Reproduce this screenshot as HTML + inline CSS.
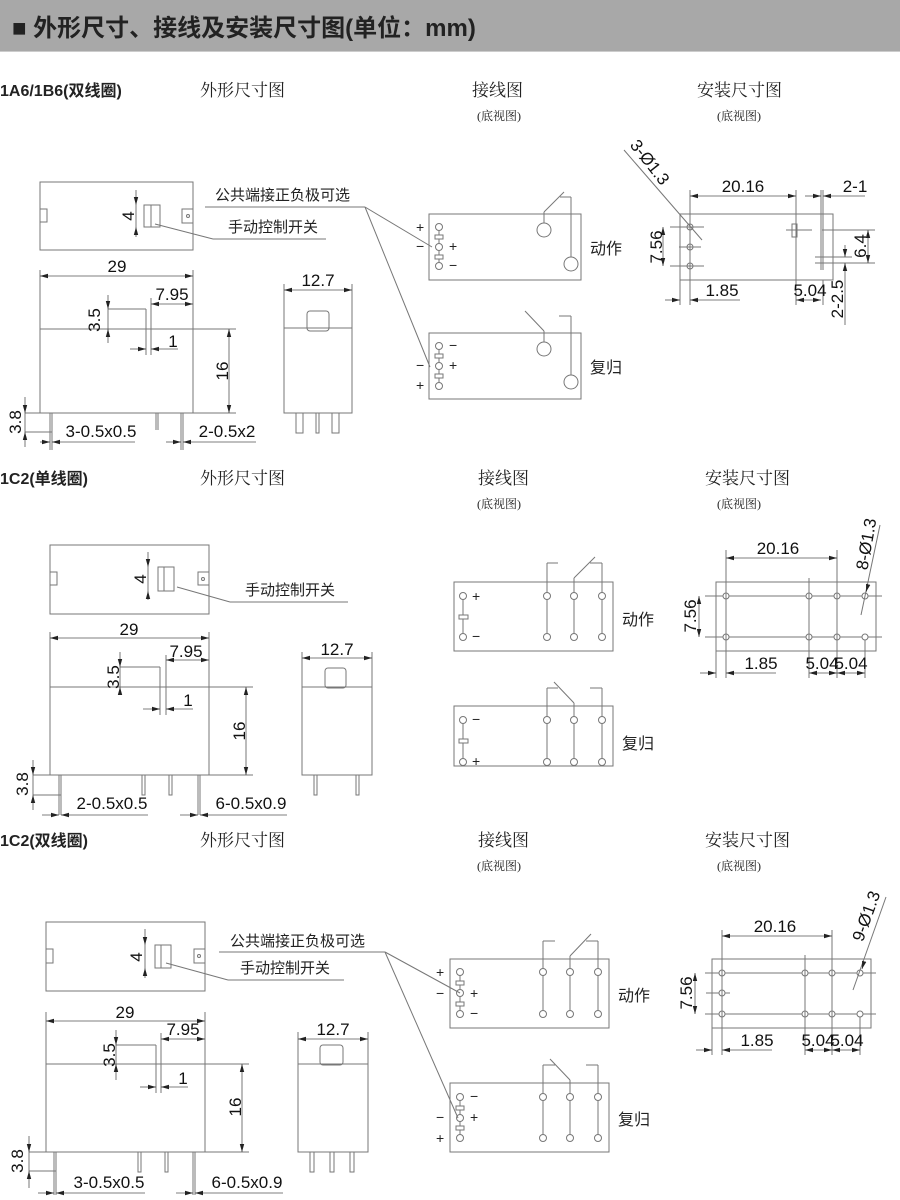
<!DOCTYPE html>
<html><head><meta charset="utf-8">
<style>
html,body{margin:0;padding:0;background:#fff;}
svg{display:block}
.l{stroke:#777;stroke-width:1;fill:none}
.d{stroke:#555;stroke-width:0.8;fill:none}
.t{font-family:"Liberation Sans","Noto Sans CJK SC",sans-serif;fill:#222}
.s{font-family:"Liberation Serif","Noto Serif CJK SC",serif;fill:#222}
.n{font-family:"Liberation Sans",sans-serif;font-size:17px;fill:#111}
</style></head><body>
<svg width="900" height="1200" viewBox="0 0 900 1200" xmlns="http://www.w3.org/2000/svg">
<defs>
<marker id="a" markerWidth="8" markerHeight="6" refX="8" refY="3" orient="auto-start-reverse" markerUnits="userSpaceOnUse"><path d="M0,0.8 L8,3 L0,5.2z" fill="#222"/></marker>
</defs>
<rect x="0" y="0" width="900" height="52" fill="#a8a8a8"/>
<rect x="0" y="51" width="900" height="1" fill="#ccc"/>
<text x="12" y="36" class="t" font-size="24" font-weight="bold" fill="#000">■ 外形尺寸、接线及安装尺寸图(单位：mm)</text>

<!-- headings -->
<g class="t" font-size="16" font-weight="bold"><text x="0" y="96">1A6/1B6(双线圈)</text><text x="0" y="484">1C2(单线圈)</text><text x="0" y="846">1C2(双线圈)</text></g>
<g class="s" font-size="17">
<text x="200" y="96">外形尺寸图</text><text x="472" y="96">接线图</text><text x="697" y="96">安装尺寸图</text>
<text x="200" y="484">外形尺寸图</text><text x="478" y="484">接线图</text><text x="705" y="484">安装尺寸图</text>
<text x="200" y="846">外形尺寸图</text><text x="478" y="846">接线图</text><text x="705" y="846">安装尺寸图</text>
</g>
<g class="s" font-size="12">
<text x="477" y="120">(底视图)</text><text x="717" y="120">(底视图)</text>
<text x="477" y="508">(底视图)</text><text x="717" y="508">(底视图)</text>
<text x="477" y="870">(底视图)</text><text x="717" y="870">(底视图)</text>
</g>

<!-- ===== SECTION 1 outline ===== -->
<g class="l">
<rect x="40" y="182" width="153" height="68"/>
<rect x="40" y="209" width="7" height="13"/>
<rect x="182" y="209" width="11" height="14"/><circle cx="188" cy="216" r="1.5"/>
<rect x="144" y="205" width="16" height="22"/><line x1="151" y1="205" x2="151" y2="227"/>
<line x1="155" y1="224" x2="213" y2="239"/><line x1="213" y1="239" x2="326" y2="239"/>
<line x1="205" y1="207" x2="365" y2="207"/>
<line x1="365" y1="207" x2="432" y2="247"/><line x1="365" y1="207" x2="430" y2="367"/>
<rect x="40" y="329" width="153" height="84"/>
<line x1="40" y1="270" x2="40" y2="329"/><line x1="193" y1="270" x2="193" y2="329"/>
<line x1="108" y1="309" x2="146" y2="309"/><line x1="146" y1="309" x2="146" y2="355"/><line x1="151" y1="298" x2="151" y2="355"/>
<line x1="193" y1="329" x2="236" y2="329"/><line x1="193" y1="413" x2="236" y2="413"/>
<line x1="50" y1="413" x2="50" y2="450"/><line x1="52" y1="413" x2="52" y2="450"/>
<line x1="156" y1="413" x2="156" y2="430"/><line x1="158" y1="413" x2="158" y2="430"/>
<line x1="181" y1="413" x2="181" y2="450"/><line x1="183" y1="413" x2="183" y2="450"/>
<line x1="25" y1="413" x2="52" y2="413"/><line x1="25" y1="432" x2="52" y2="432"/>
<rect x="284" y="328" width="68" height="85"/>
<rect x="307" y="311" width="22" height="20" rx="3"/>
<line x1="284" y1="284" x2="284" y2="328"/><line x1="352" y1="284" x2="352" y2="328"/>
<rect x="296" y="413" width="7" height="20"/><rect x="316" y="413" width="3" height="20"/><rect x="332" y="413" width="7" height="20"/>
</g>
<g class="d">
<line x1="136" y1="190" x2="136" y2="205" marker-end="url(#a)"/><line x1="136" y1="237" x2="136" y2="227" marker-end="url(#a)"/>
<line x1="136" y1="205" x2="136" y2="227"/>
<line x1="40" y1="276" x2="193" y2="276" marker-start="url(#a)" marker-end="url(#a)"/>
<line x1="151" y1="304" x2="193" y2="304" marker-start="url(#a)" marker-end="url(#a)"/>
<line x1="108" y1="295" x2="108" y2="309" marker-end="url(#a)"/><line x1="108" y1="343" x2="108" y2="329" marker-end="url(#a)"/><line x1="108" y1="309" x2="108" y2="329"/>
<line x1="130" y1="349" x2="146" y2="349" marker-end="url(#a)"/><line x1="178" y1="349" x2="151" y2="349" marker-end="url(#a)"/>
<line x1="229" y1="329" x2="229" y2="413" marker-start="url(#a)" marker-end="url(#a)"/>
<line x1="25" y1="397" x2="25" y2="413" marker-end="url(#a)"/><line x1="25" y1="447" x2="25" y2="432" marker-end="url(#a)"/><line x1="25" y1="413" x2="25" y2="432"/>
<line x1="40" y1="442" x2="50" y2="442" marker-end="url(#a)"/><line x1="135" y1="442" x2="52" y2="442" marker-end="url(#a)"/>
<line x1="166" y1="442" x2="181" y2="442" marker-end="url(#a)"/><line x1="256" y1="442" x2="183" y2="442" marker-end="url(#a)"/>
<line x1="284" y1="290" x2="352" y2="290" marker-start="url(#a)" marker-end="url(#a)"/>
</g>
<g class="n">
<text x="128" y="222" transform="rotate(-90 128 216)" text-anchor="middle">4</text>
<text x="117" y="272" text-anchor="middle">29</text>
<text x="172" y="300" text-anchor="middle">7.95</text>
<text x="100" y="320" transform="rotate(-90 100 320)" text-anchor="middle">3.5</text>
<text x="173" y="347" text-anchor="middle">1</text>
<text x="222" y="377" transform="rotate(-90 222 371)" text-anchor="middle">16</text>
<text x="15" y="428" transform="rotate(-90 15 422)" text-anchor="middle">3.8</text>
<text x="101" y="437" text-anchor="middle">3-0.5x0.5</text>
<text x="227" y="437" text-anchor="middle">2-0.5x2</text>
<text x="318" y="286" text-anchor="middle">12.7</text>
</g>
<g class="t" font-size="15"><text x="215" y="200">公共端接正负极可选</text><text x="228" y="232">手动控制开关</text></g>

<!-- wiring section1 -->
<g class="l">
<rect x="429" y="214" width="152" height="66"/>
<circle cx="439" cy="227" r="3.5"/><circle cx="439" cy="247" r="3.5"/><circle cx="439" cy="266" r="3.5"/>
<line x1="439" y1="230" x2="439" y2="244"/><line x1="439" y1="250" x2="439" y2="263"/>
<rect x="435" y="235" width="8" height="4" fill="#fff"/><rect x="435" y="255" width="8" height="4" fill="#fff"/>
<circle cx="544" cy="230" r="7"/><circle cx="571" cy="264" r="7"/>
<line x1="544" y1="223" x2="544" y2="212"/><line x1="544" y1="212" x2="564" y2="192"/>
<line x1="571" y1="257" x2="571" y2="197"/><line x1="560" y1="197" x2="571" y2="197"/>
<rect x="429" y="333" width="152" height="66"/>
<circle cx="439" cy="346" r="3.5"/><circle cx="439" cy="366" r="3.5"/><circle cx="439" cy="386" r="3.5"/>
<line x1="439" y1="349" x2="439" y2="363"/><line x1="439" y1="369" x2="439" y2="383"/>
<rect x="435" y="354" width="8" height="4" fill="#fff"/><rect x="435" y="374" width="8" height="4" fill="#fff"/>
<circle cx="544" cy="349" r="7"/><circle cx="571" cy="382" r="7"/>
<line x1="544" y1="342" x2="544" y2="331"/><line x1="544" y1="331" x2="525" y2="311"/>
<line x1="571" y1="375" x2="571" y2="316"/><line x1="559" y1="316" x2="571" y2="316"/>
</g>
<g class="t" font-size="14" fill="#444">
<text x="416" y="232">+</text><text x="416" y="251">−</text><text x="449" y="251">+</text><text x="449" y="270">−</text>
<text x="449" y="350">−</text><text x="416" y="370">−</text><text x="449" y="370">+</text><text x="416" y="390">+</text>
</g>
<g class="t" font-size="16"><text x="590" y="254">动作</text><text x="590" y="373">复归</text></g>

<!-- mount section1 -->
<g class="l">
<rect x="680" y="214" width="153" height="66"/>
<circle cx="690" cy="227" r="3"/><circle cx="690" cy="247" r="3"/><circle cx="690" cy="266" r="3"/>
<line x1="670" y1="227" x2="704" y2="227"/><line x1="679" y1="247" x2="701" y2="247"/><line x1="670" y1="266" x2="704" y2="266"/>
<line x1="690" y1="190" x2="690" y2="305"/><line x1="680" y1="280" x2="680" y2="305"/>
<line x1="796" y1="190" x2="796" y2="305"/>
<rect x="792" y="224" width="5" height="13"/><line x1="786" y1="230" x2="812" y2="230"/>
<line x1="821" y1="190" x2="821" y2="270"/><line x1="823" y1="190" x2="823" y2="270"/><line x1="823" y1="280" x2="823" y2="305"/>
<line x1="822" y1="230" x2="875" y2="230"/><line x1="815" y1="263" x2="875" y2="263"/><line x1="815" y1="257" x2="852" y2="257"/>
<line x1="624" y1="150" x2="702" y2="240"/>
</g>
<g class="d">
<line x1="690" y1="196" x2="796" y2="196" marker-start="url(#a)" marker-end="url(#a)"/>
<line x1="805" y1="196" x2="821" y2="196" marker-end="url(#a)"/><line x1="865" y1="196" x2="823" y2="196" marker-end="url(#a)"/>
<line x1="868" y1="230" x2="868" y2="263" marker-start="url(#a)" marker-end="url(#a)"/>
<line x1="845" y1="245" x2="845" y2="257" marker-end="url(#a)"/><line x1="845" y1="325" x2="845" y2="263" marker-end="url(#a)"/>
<line x1="663" y1="227" x2="663" y2="266" marker-start="url(#a)" marker-end="url(#a)"/>
<line x1="665" y1="300" x2="680" y2="300" marker-end="url(#a)"/><line x1="740" y1="300" x2="690" y2="300" marker-end="url(#a)"/>
<line x1="796" y1="300" x2="821" y2="300" marker-start="url(#a)" marker-end="url(#a)"/>
</g>
<g class="n">
<text x="743" y="192" text-anchor="middle">20.16</text>
<text x="855" y="192" text-anchor="middle">2-1</text>
<text x="860" y="252" transform="rotate(-90 860 246)" text-anchor="middle">6.4</text>
<text x="837" y="305" transform="rotate(-90 837 299)" text-anchor="middle">2-2.5</text>
<text x="656" y="253" transform="rotate(-90 656 247)" text-anchor="middle">7.56</text>
<text x="722" y="296" text-anchor="middle">1.85</text>
<text x="810" y="296" text-anchor="middle">5.04</text>
<text x="650" y="168" transform="rotate(52 650 162)" text-anchor="middle">3-Ø1.3</text>
</g>

<!-- ===== SECTION 2 outline ===== -->
<g class="l">
<rect x="50" y="545" width="159" height="69"/>
<rect x="50" y="572" width="7" height="13"/>
<rect x="198" y="572" width="11" height="13"/><circle cx="203" cy="579" r="1.5"/>
<rect x="158" y="567" width="16" height="24"/><line x1="164" y1="567" x2="164" y2="591"/>
<line x1="177" y1="587" x2="230" y2="602"/><line x1="230" y1="602" x2="348" y2="602"/>
<rect x="50" y="687" width="159" height="88"/>
<line x1="50" y1="632" x2="50" y2="687"/><line x1="209" y1="632" x2="209" y2="687"/>
<line x1="120" y1="667" x2="160" y2="667"/><line x1="160" y1="667" x2="160" y2="715"/><line x1="166" y1="655" x2="166" y2="715"/>
<line x1="209" y1="687" x2="253" y2="687"/><line x1="209" y1="775" x2="253" y2="775"/>
<line x1="59" y1="775" x2="59" y2="815"/><line x1="61" y1="775" x2="61" y2="815"/>
<rect x="142" y="775" width="3" height="20"/><rect x="169" y="775" width="3" height="20"/>
<line x1="198" y1="775" x2="198" y2="815"/><line x1="200" y1="775" x2="200" y2="815"/>
<line x1="33" y1="775" x2="61" y2="775"/><line x1="33" y1="795" x2="61" y2="795"/>
<rect x="302" y="687" width="70" height="88"/>
<rect x="325" y="668" width="21" height="20" rx="3"/>
<line x1="302" y1="652" x2="302" y2="687"/><line x1="372" y1="652" x2="372" y2="687"/>
<rect x="314" y="775" width="3" height="20"/><rect x="356" y="775" width="3" height="20"/>
</g>
<g class="d">
<line x1="148" y1="552" x2="148" y2="567" marker-end="url(#a)"/><line x1="148" y1="600" x2="148" y2="591" marker-end="url(#a)"/><line x1="148" y1="567" x2="148" y2="591"/>
<line x1="50" y1="638" x2="209" y2="638" marker-start="url(#a)" marker-end="url(#a)"/>
<line x1="166" y1="660" x2="209" y2="660" marker-start="url(#a)" marker-end="url(#a)"/>
<line x1="120" y1="652" x2="120" y2="667" marker-end="url(#a)"/><line x1="120" y1="695" x2="120" y2="687" marker-end="url(#a)"/><line x1="120" y1="667" x2="120" y2="687"/>
<line x1="143" y1="709" x2="160" y2="709" marker-end="url(#a)"/><line x1="193" y1="709" x2="166" y2="709" marker-end="url(#a)"/>
<line x1="246" y1="687" x2="246" y2="775" marker-start="url(#a)" marker-end="url(#a)"/>
<line x1="33" y1="760" x2="33" y2="775" marker-end="url(#a)"/><line x1="33" y1="810" x2="33" y2="795" marker-end="url(#a)"/><line x1="33" y1="775" x2="33" y2="795"/>
<line x1="42" y1="815" x2="59" y2="815" marker-end="url(#a)"/><line x1="148" y1="815" x2="61" y2="815" marker-end="url(#a)"/>
<line x1="180" y1="815" x2="198" y2="815" marker-end="url(#a)"/><line x1="287" y1="815" x2="200" y2="815" marker-end="url(#a)"/>
<line x1="302" y1="658" x2="372" y2="658" marker-start="url(#a)" marker-end="url(#a)"/>
</g>
<g class="n">
<text x="140" y="585" transform="rotate(-90 140 579)" text-anchor="middle">4</text>
<text x="129" y="635" text-anchor="middle">29</text>
<text x="186" y="657" text-anchor="middle">7.95</text>
<text x="113" y="683" transform="rotate(-90 113 677)" text-anchor="middle">3.5</text>
<text x="188" y="706" text-anchor="middle">1</text>
<text x="239" y="737" transform="rotate(-90 239 731)" text-anchor="middle">16</text>
<text x="22" y="790" transform="rotate(-90 22 784)" text-anchor="middle">3.8</text>
<text x="112" y="809" text-anchor="middle">2-0.5x0.5</text>
<text x="251" y="809" text-anchor="middle">6-0.5x0.9</text>
<text x="337" y="655" text-anchor="middle">12.7</text>
</g>
<g class="t" font-size="15"><text x="245" y="595">手动控制开关</text></g>

<!-- wiring section2 -->
<g class="l">
<rect x="454" y="582" width="159" height="69"/>
<circle cx="463" cy="596" r="3.5"/><circle cx="463" cy="637" r="3.5"/><line x1="463" y1="599" x2="463" y2="634"/>
<rect x="459" y="615" width="9" height="4" fill="#fff"/>
<circle cx="547" cy="596" r="3.5"/><circle cx="547" cy="637" r="3.5"/><line x1="547" y1="599" x2="547" y2="634"/>
<circle cx="574" cy="596" r="3.5"/><circle cx="574" cy="637" r="3.5"/><line x1="574" y1="599" x2="574" y2="634"/>
<circle cx="602" cy="596" r="3.5"/><circle cx="602" cy="637" r="3.5"/><line x1="602" y1="599" x2="602" y2="634"/>
<line x1="547" y1="593" x2="547" y2="563"/><line x1="547" y1="563" x2="558" y2="563"/>
<line x1="574" y1="593" x2="574" y2="578"/><line x1="574" y1="578" x2="595" y2="557"/>
<line x1="602" y1="593" x2="602" y2="563"/><line x1="590" y1="563" x2="602" y2="563"/>
<rect x="454" y="706" width="159" height="60"/>
<circle cx="463" cy="720" r="3.5"/><circle cx="463" cy="762" r="3.5"/><line x1="463" y1="723" x2="463" y2="759"/>
<rect x="459" y="739" width="9" height="4" fill="#fff"/>
<circle cx="547" cy="720" r="3.5"/><circle cx="547" cy="762" r="3.5"/><line x1="547" y1="723" x2="547" y2="759"/>
<circle cx="574" cy="720" r="3.5"/><circle cx="574" cy="762" r="3.5"/><line x1="574" y1="723" x2="574" y2="759"/>
<circle cx="602" cy="720" r="3.5"/><circle cx="602" cy="762" r="3.5"/><line x1="602" y1="723" x2="602" y2="759"/>
<line x1="547" y1="717" x2="547" y2="688"/><line x1="547" y1="688" x2="558" y2="688"/>
<line x1="574" y1="717" x2="574" y2="703"/><line x1="574" y1="703" x2="554" y2="682"/>
<line x1="602" y1="717" x2="602" y2="688"/><line x1="590" y1="688" x2="602" y2="688"/>
</g>
<g class="t" font-size="14" fill="#444"><text x="472" y="601">+</text><text x="472" y="641">−</text><text x="472" y="724">−</text><text x="472" y="766">+</text></g>
<g class="t" font-size="16"><text x="622" y="625">动作</text><text x="622" y="749">复归</text></g>

<!-- mount section2 -->
<g class="l">
<rect x="716" y="582" width="160" height="69"/>
<line x1="705" y1="596" x2="882" y2="596"/><line x1="705" y1="637" x2="882" y2="637"/>
<circle cx="726" cy="596" r="3" fill="#fff"/><circle cx="726" cy="637" r="3" fill="#fff"/>
<circle cx="809" cy="596" r="3" fill="#fff"/><circle cx="809" cy="637" r="3" fill="#fff"/>
<circle cx="837" cy="596" r="3" fill="#fff"/><circle cx="837" cy="637" r="3" fill="#fff"/>
<circle cx="865" cy="596" r="3" fill="#fff"/><circle cx="865" cy="637" r="3" fill="#fff"/>
<line x1="726" y1="550" x2="726" y2="678"/><line x1="716" y1="651" x2="716" y2="678"/>
<line x1="837" y1="550" x2="837" y2="678"/><line x1="809" y1="578" x2="809" y2="678"/><line x1="865" y1="640" x2="865" y2="678"/>
<line x1="880" y1="525" x2="861" y2="615"/>
</g>
<g class="d">
<line x1="726" y1="558" x2="837" y2="558" marker-start="url(#a)" marker-end="url(#a)"/>
<line x1="699" y1="596" x2="699" y2="637" marker-start="url(#a)" marker-end="url(#a)"/>
<line x1="700" y1="673" x2="716" y2="673" marker-end="url(#a)"/><line x1="776" y1="673" x2="726" y2="673" marker-end="url(#a)"/>
<line x1="809" y1="673" x2="837" y2="673" marker-start="url(#a)" marker-end="url(#a)"/>
<line x1="837" y1="673" x2="865" y2="673" marker-start="url(#a)" marker-end="url(#a)"/>
<line x1="868" y1="585" x2="866" y2="592" marker-end="url(#a)"/>
</g>
<g class="n">
<text x="778" y="554" text-anchor="middle">20.16</text>
<text x="690" y="622" transform="rotate(-90 690 616)" text-anchor="middle">7.56</text>
<text x="761" y="669" text-anchor="middle">1.85</text>
<text x="822" y="669" text-anchor="middle">5.04</text>
<text x="851" y="669" text-anchor="middle">5.04</text>
<text x="866" y="550" transform="rotate(-80 866 544)" text-anchor="middle">8-Ø1.3</text>
</g>

<!-- ===== SECTION 3 outline ===== -->
<g class="l">
<rect x="46" y="922" width="159" height="69"/>
<rect x="46" y="949" width="7" height="14"/>
<rect x="194" y="949" width="11" height="14"/><circle cx="199" cy="956" r="1.5"/>
<rect x="155" y="945" width="16" height="23"/><line x1="161" y1="945" x2="161" y2="968"/>
<line x1="166" y1="963" x2="228" y2="980"/><line x1="228" y1="980" x2="344" y2="980"/>
<line x1="219" y1="952" x2="385" y2="952"/>
<line x1="385" y1="952" x2="460" y2="993"/><line x1="385" y1="952" x2="458" y2="1118"/>
<rect x="46" y="1064" width="159" height="88"/>
<line x1="46" y1="1012" x2="46" y2="1064"/><line x1="205" y1="1012" x2="205" y2="1064"/>
<line x1="116" y1="1045" x2="156" y2="1045"/><line x1="156" y1="1045" x2="156" y2="1093"/><line x1="161" y1="1033" x2="161" y2="1093"/>
<line x1="205" y1="1064" x2="249" y2="1064"/><line x1="205" y1="1152" x2="249" y2="1152"/>
<line x1="54" y1="1152" x2="54" y2="1195"/><line x1="56" y1="1152" x2="56" y2="1195"/>
<rect x="138" y="1152" width="3" height="20"/><rect x="165" y="1152" width="3" height="20"/>
<line x1="193" y1="1152" x2="193" y2="1195"/><line x1="195" y1="1152" x2="195" y2="1195"/>
<line x1="29" y1="1152" x2="56" y2="1152"/><line x1="29" y1="1171" x2="56" y2="1171"/>
<rect x="298" y="1064" width="70" height="88"/>
<rect x="320" y="1045" width="23" height="20" rx="3"/>
<line x1="298" y1="1032" x2="298" y2="1064"/><line x1="368" y1="1032" x2="368" y2="1064"/>
<rect x="310" y="1152" width="4" height="20"/><rect x="330" y="1152" width="4" height="20"/><rect x="350" y="1152" width="4" height="20"/>
</g>
<g class="d">
<line x1="145" y1="929" x2="145" y2="945" marker-end="url(#a)"/><line x1="145" y1="978" x2="145" y2="968" marker-end="url(#a)"/><line x1="145" y1="945" x2="145" y2="968"/>
<line x1="46" y1="1021" x2="205" y2="1021" marker-start="url(#a)" marker-end="url(#a)"/>
<line x1="161" y1="1039" x2="205" y2="1039" marker-start="url(#a)" marker-end="url(#a)"/>
<line x1="116" y1="1030" x2="116" y2="1045" marker-end="url(#a)"/><line x1="116" y1="1080" x2="116" y2="1064" marker-end="url(#a)"/><line x1="116" y1="1045" x2="116" y2="1064"/>
<line x1="140" y1="1087" x2="156" y2="1087" marker-end="url(#a)"/><line x1="188" y1="1087" x2="161" y2="1087" marker-end="url(#a)"/>
<line x1="242" y1="1064" x2="242" y2="1152" marker-start="url(#a)" marker-end="url(#a)"/>
<line x1="29" y1="1136" x2="29" y2="1152" marker-end="url(#a)"/><line x1="29" y1="1188" x2="29" y2="1171" marker-end="url(#a)"/><line x1="29" y1="1152" x2="29" y2="1171"/>
<line x1="38" y1="1193" x2="54" y2="1193" marker-end="url(#a)"/><line x1="145" y1="1193" x2="56" y2="1193" marker-end="url(#a)"/>
<line x1="176" y1="1193" x2="193" y2="1193" marker-end="url(#a)"/><line x1="283" y1="1193" x2="195" y2="1193" marker-end="url(#a)"/>
<line x1="298" y1="1039" x2="368" y2="1039" marker-start="url(#a)" marker-end="url(#a)"/>
</g>
<g class="n">
<text x="136" y="963" transform="rotate(-90 136 957)" text-anchor="middle">4</text>
<text x="125" y="1018" text-anchor="middle">29</text>
<text x="183" y="1035" text-anchor="middle">7.95</text>
<text x="109" y="1061" transform="rotate(-90 109 1055)" text-anchor="middle">3.5</text>
<text x="183" y="1084" text-anchor="middle">1</text>
<text x="235" y="1113" transform="rotate(-90 235 1107)" text-anchor="middle">16</text>
<text x="17" y="1167" transform="rotate(-90 17 1161)" text-anchor="middle">3.8</text>
<text x="109" y="1188" text-anchor="middle">3-0.5x0.5</text>
<text x="247" y="1188" text-anchor="middle">6-0.5x0.9</text>
<text x="333" y="1035" text-anchor="middle">12.7</text>
</g>
<g class="t" font-size="15"><text x="230" y="946">公共端接正负极可选</text><text x="240" y="973">手动控制开关</text></g>

<!-- wiring section3 -->
<g class="l">
<rect x="450" y="959" width="159" height="69"/>
<circle cx="460" cy="972" r="3.5"/><circle cx="460" cy="993" r="3.5"/><circle cx="460" cy="1014" r="3.5"/>
<line x1="460" y1="975" x2="460" y2="990"/><line x1="460" y1="996" x2="460" y2="1011"/>
<rect x="456" y="981" width="8" height="4" fill="#fff"/><rect x="456" y="1002" width="8" height="4" fill="#fff"/>
<circle cx="543" cy="972" r="3.5"/><circle cx="543" cy="1014" r="3.5"/><line x1="543" y1="975" x2="543" y2="1011"/>
<circle cx="570" cy="972" r="3.5"/><circle cx="570" cy="1014" r="3.5"/><line x1="570" y1="975" x2="570" y2="1011"/>
<circle cx="598" cy="972" r="3.5"/><circle cx="598" cy="1014" r="3.5"/><line x1="598" y1="975" x2="598" y2="1011"/>
<line x1="543" y1="969" x2="543" y2="941"/><line x1="543" y1="941" x2="555" y2="941"/>
<line x1="570" y1="969" x2="570" y2="956"/><line x1="570" y1="956" x2="591" y2="934"/>
<line x1="598" y1="969" x2="598" y2="941"/><line x1="586" y1="941" x2="598" y2="941"/>
<rect x="450" y="1083" width="159" height="69"/>
<circle cx="460" cy="1097" r="3.5"/><circle cx="460" cy="1118" r="3.5"/><circle cx="460" cy="1138" r="3.5"/>
<line x1="460" y1="1100" x2="460" y2="1115"/><line x1="460" y1="1121" x2="460" y2="1135"/>
<rect x="456" y="1106" width="8" height="4" fill="#fff"/><rect x="456" y="1126" width="8" height="4" fill="#fff"/>
<circle cx="543" cy="1097" r="3.5"/><circle cx="543" cy="1138" r="3.5"/><line x1="543" y1="1100" x2="543" y2="1135"/>
<circle cx="570" cy="1097" r="3.5"/><circle cx="570" cy="1138" r="3.5"/><line x1="570" y1="1100" x2="570" y2="1135"/>
<circle cx="598" cy="1097" r="3.5"/><circle cx="598" cy="1138" r="3.5"/><line x1="598" y1="1100" x2="598" y2="1135"/>
<line x1="543" y1="1094" x2="543" y2="1065"/><line x1="543" y1="1065" x2="555" y2="1065"/>
<line x1="570" y1="1094" x2="570" y2="1080"/><line x1="570" y1="1080" x2="550" y2="1059"/>
<line x1="598" y1="1094" x2="598" y2="1065"/><line x1="586" y1="1065" x2="598" y2="1065"/>
</g>
<g class="t" font-size="14" fill="#444">
<text x="436" y="977">+</text><text x="436" y="998">−</text><text x="470" y="998">+</text><text x="470" y="1018">−</text>
<text x="470" y="1101">−</text><text x="436" y="1122">−</text><text x="470" y="1122">+</text><text x="436" y="1143">+</text>
</g>
<g class="t" font-size="16"><text x="618" y="1001">动作</text><text x="618" y="1125">复归</text></g>

<!-- mount section3 -->
<g class="l">
<rect x="712" y="959" width="159" height="69"/>
<line x1="705" y1="973" x2="876" y2="973"/><line x1="705" y1="1014" x2="876" y2="1014"/><line x1="706" y1="993" x2="730" y2="993"/>
<circle cx="722" cy="973" r="3" fill="#fff"/><circle cx="722" cy="993" r="3" fill="#fff"/><circle cx="722" cy="1014" r="3" fill="#fff"/>
<circle cx="805" cy="973" r="3" fill="#fff"/><circle cx="805" cy="1014" r="3" fill="#fff"/>
<circle cx="832" cy="973" r="3" fill="#fff"/><circle cx="832" cy="1014" r="3" fill="#fff"/>
<circle cx="860" cy="973" r="3" fill="#fff"/><circle cx="860" cy="1014" r="3" fill="#fff"/>
<line x1="722" y1="930" x2="722" y2="1055"/><line x1="712" y1="1028" x2="712" y2="1055"/>
<line x1="832" y1="930" x2="832" y2="1055"/><line x1="805" y1="955" x2="805" y2="1055"/><line x1="860" y1="1017" x2="860" y2="1055"/>
<line x1="886" y1="897" x2="853" y2="990"/>
</g>
<g class="d">
<line x1="722" y1="936" x2="832" y2="936" marker-start="url(#a)" marker-end="url(#a)"/>
<line x1="695" y1="973" x2="695" y2="1014" marker-start="url(#a)" marker-end="url(#a)"/>
<line x1="696" y1="1050" x2="712" y2="1050" marker-end="url(#a)"/><line x1="772" y1="1050" x2="722" y2="1050" marker-end="url(#a)"/>
<line x1="805" y1="1050" x2="832" y2="1050" marker-start="url(#a)" marker-end="url(#a)"/>
<line x1="832" y1="1050" x2="860" y2="1050" marker-start="url(#a)" marker-end="url(#a)"/>
<line x1="864" y1="962" x2="862" y2="969" marker-end="url(#a)"/>
</g>
<g class="n">
<text x="775" y="932" text-anchor="middle">20.16</text>
<text x="686" y="999" transform="rotate(-90 686 993)" text-anchor="middle">7.56</text>
<text x="757" y="1046" text-anchor="middle">1.85</text>
<text x="818" y="1046" text-anchor="middle">5.04</text>
<text x="847" y="1046" text-anchor="middle">5.04</text>
<text x="866" y="922" transform="rotate(-70 866 916)" text-anchor="middle">9-Ø1.3</text>
</g>
</svg>
</body></html>
